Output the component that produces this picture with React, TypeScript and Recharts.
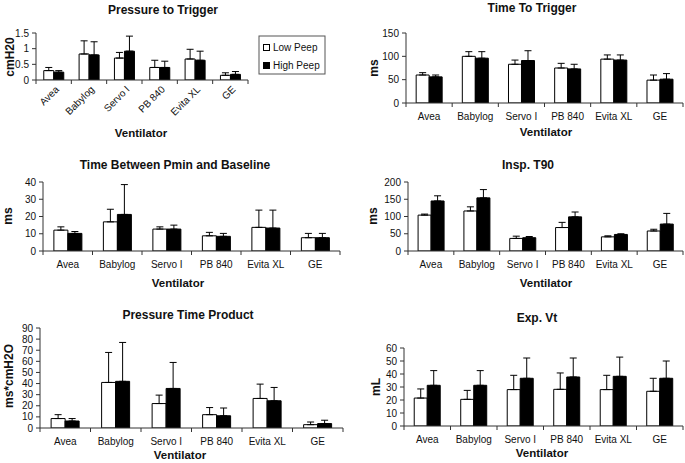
import React from "react";
import { BarChart, Bar, XAxis, YAxis, ErrorBar } from "recharts";

const categories = ["Avea", "Babylog", "Servo I", "PB 840", "Evita XL", "GE"];

const pttLow = [0.3, 0.83, 0.7, 0.4, 0.67, 0.15];
const pttLowSd = [0.1, 0.42, 0.18, 0.23, 0.31, 0.08];
const pttHigh = [0.25, 0.8, 0.92, 0.4, 0.63, 0.18];
const pttHighSd = [0.05, 0.42, 0.48, 0.2, 0.29, 0.09];

const ttLow = [60, 100, 83, 75, 94, 49];
const ttLowSd = [5, 10, 9, 10, 9, 11];
const ttHigh = [56, 96, 91, 73, 92, 51];
const ttHighSd = [4, 14, 21, 10, 11, 12];

const tbLow = [12.1, 16.9, 12.7, 8.8, 13.7, 7.7];
const tbLowSd = [1.9, 7.3, 1.3, 2, 10, 2.5];
const tbHigh = [10.2, 21.2, 12.7, 8.5, 13.3, 7.7];
const tbHighSd = [1.1, 17.3, 2.3, 1.7, 10.4, 2.5];

const t90Low = [104, 116, 36.5, 68, 41, 58];
const t90LowSd = [3, 12, 6.5, 15, 3, 5];
const t90High = [145, 154, 38.5, 99, 48, 78];
const t90HighSd = [15, 24, 3.5, 14, 2, 31];

const ptpLow = [8.5, 41, 22, 12, 26.6, 3];
const ptpLowSd = [3.5, 27, 7.6, 6.4, 12.9, 2.4];
const ptpHigh = [6.3, 42, 35.6, 11, 24.5, 4];
const ptpHighSd = [2.2, 35, 23.4, 7, 12, 3];

const vtLow = [21.5, 20.5, 28, 28.2, 28, 26.7];
const vtLowSd = [7, 6.9, 11, 12.6, 11, 10];
const vtHigh = [31.3, 31.3, 36.7, 37.7, 38.2, 36.7];
const vtHighSd = [11.3, 11.3, 15.6, 14.6, 14.8, 13.3];

const seriesNames = ["Low Peep", "High Peep"];

const FONT = "'Liberation Sans', Arial, Helvetica, sans-serif";

function buildRows(low: number[], lowSd: number[], high: number[], highSd: number[]) {
  return categories.map((c, i) => ({
    name: c,
    low: low[i],
    lowErr: [0, lowSd[i]],
    high: high[i],
    highErr: [0, highSd[i]],
  }));
}

type PanelCfg = {
  x0: number; y0: number; x1: number; y1: number;
  domain: [number, number]; ticks: number[];
  rotated?: boolean;
  rows: any[];
};

const CatTick = (props: any) => {
  const { x, y, payload, index, half, rotated } = props;
  const axisY = y - 8;
  const h = half;
  return (
    <g>
      <path d={`M${x - h},${axisY}v4`} stroke="#333" strokeWidth={1} fill="none" />
      {index === categories.length - 1 ? (
        <path d={`M${x + h},${axisY}v4`} stroke="#333" strokeWidth={1} fill="none" />
      ) : null}
      {rotated ? (
        <text
          x={x + 6}
          y={axisY + 10}
          textAnchor="end"
          transform={`rotate(-45 ${x + 6} ${axisY + 10})`}
          fontSize={10}
          fontFamily={FONT}
          fill="#111"
        >
          {payload.value}
        </text>
      ) : (
        <text x={x} y={axisY + 17} textAnchor="middle" fontSize={10} fontFamily={FONT} fill="#111">
          {payload.value}
        </text>
      )}
    </g>
  );
};

const YW = 40;
const TOPM = 6;

function Panel({ cfg }: { cfg: PanelCfg }) {
  const xh = cfg.rotated ? 50 : 24;
  const width = cfg.x1 - cfg.x0 + YW + 2;
  const height = cfg.y1 - cfg.y0 + TOPM + xh;
  const half = (cfg.x1 - cfg.x0) / 12;
  return (
    <div style={{ position: "absolute", left: cfg.x0 - YW, top: cfg.y0 - TOPM }}>
      <BarChart
        width={width}
        height={height}
        data={cfg.rows}
        margin={{ top: TOPM, right: 2, left: 0, bottom: 0 }}
        barCategoryGap="22%"
        barGap={0}
      >
        <XAxis
          dataKey="name"
          height={xh}
          axisLine={{ stroke: "#333" }}
          tickLine={false}
          tickSize={6}
          tickMargin={2}
          interval={0}
          tick={(p: any) => <CatTick {...p} half={half} rotated={cfg.rotated} />}
        />
        <YAxis
          width={YW}
          domain={cfg.domain}
          ticks={cfg.ticks}
          interval={0}
          allowDataOverflow
          axisLine={{ stroke: "#333" }}
          tickLine={{ stroke: "#333" }}
          tickSize={4}
          tickMargin={3}
          tick={{ fontSize: 10, fill: "#111", fontFamily: FONT }}
        />
        <Bar dataKey="low" name={seriesNames[0]} fill="#ffffff" stroke="#000" strokeWidth={1} isAnimationActive={false}>
          <ErrorBar dataKey="lowErr" width={3.5} stroke="#000" strokeWidth={1} direction="y" />
        </Bar>
        <Bar dataKey="high" name={seriesNames[1]} fill="#000000" stroke="#000" strokeWidth={1} isAnimationActive={false}>
          <ErrorBar dataKey="highErr" width={3.5} stroke="#000" strokeWidth={1} direction="y" />
        </Bar>
      </BarChart>
    </div>
  );
}

const panels: PanelCfg[] = [
  { x0: 36, y0: 33, x1: 248, y1: 80, domain: [0, 1.5], ticks: [0, 0.5, 1, 1.5], rotated: true, rows: buildRows(pttLow, pttLowSd, pttHigh, pttHighSd) },
  { x0: 406, y0: 33, x1: 683, y1: 103, domain: [0, 150], ticks: [0, 50, 100, 150], rows: buildRows(ttLow, ttLowSd, ttHigh, ttHighSd) },
  { x0: 43, y0: 182, x1: 340, y1: 251, domain: [0, 40], ticks: [0, 10, 20, 30, 40], rows: buildRows(tbLow, tbLowSd, tbHigh, tbHighSd) },
  { x0: 408, y0: 182, x1: 683, y1: 251, domain: [0, 200], ticks: [0, 50, 100, 150, 200], rows: buildRows(t90Low, t90LowSd, t90High, t90HighSd) },
  { x0: 40, y0: 328, x1: 343, y1: 428, domain: [0, 90], ticks: [0, 10, 20, 30, 40, 50, 60, 70, 80, 90], rows: buildRows(ptpLow, ptpLowSd, ptpHigh, ptpHighSd) },
  { x0: 404, y0: 348, x1: 683, y1: 426, domain: [0, 60], ticks: [0, 10, 20, 30, 40, 50, 60], rows: buildRows(vtLow, vtLowSd, vtHigh, vtHighSd) },
];

const titles = [
  { text: "Pressure to Trigger", x: 163, y: 14 },
  { text: "Time To Trigger", x: 532, y: 12 },
  { text: "Time Between Pmin and Baseline", x: 175, y: 169 },
  { text: "Insp. T90", x: 528, y: 169 },
  { text: "Pressure Time Product", x: 188, y: 319 },
  { text: "Exp. Vt", x: 537, y: 322 },
];

const xLabels = [
  { x: 141, y: 137 },
  { x: 546, y: 136 },
  { x: 178, y: 287 },
  { x: 546, y: 287 },
  { x: 180, y: 459 },
  { x: 542, y: 457 },
];

const yLabels = [
  { text: "cmH20", x: 10, y: 57 },
  { text: "ms", x: 374, y: 68 },
  { text: "ms", x: 8, y: 216 },
  { text: "ms", x: 373, y: 216 },
  { text: "ms*cmH2O", x: 9, y: 376 },
  { text: "mL", x: 376, y: 387 },
];

export default function App() {
  return (
    <div
      style={{
        position: "absolute",
        left: 0,
        top: 0,
        width: 685,
        height: 463,
        overflow: "hidden",
        background: "#fff",
        fontFamily: FONT,
      }}
    >
      {panels.map((p, i) => (
        <Panel key={i} cfg={p} />
      ))}
      <svg width={685} height={463} style={{ position: "absolute", left: 0, top: 0, pointerEvents: "none" }}>
        {titles.map((t, i) => (
          <text key={"t" + i} x={t.x} y={t.y} textAnchor="middle" fontSize={12} fontWeight="bold" fontFamily={FONT} fill="#111">
            {t.text}
          </text>
        ))}
        {xLabels.map((t, i) => (
          <text key={"x" + i} x={t.x} y={t.y} textAnchor="middle" fontSize={11.5} fontWeight="bold" fontFamily={FONT} fill="#111">
            Ventilator
          </text>
        ))}
        {yLabels.map((t, i) => (
          <text
            key={"y" + i}
            x={t.x}
            y={t.y}
            textAnchor="middle"
            dominantBaseline="central"
            transform={`rotate(-90 ${t.x} ${t.y})`}
            fontSize={12}
            fontWeight="bold"
            fontFamily={FONT}
            fill="#111"
          >
            {t.text}
          </text>
        ))}
        <rect x={259} y={36} width={66} height={38} fill="#fff" stroke="#555" strokeWidth={1} />
        <rect x={263.5} y={44.5} width={6} height={6} fill="#fff" stroke="#000" strokeWidth={1} />
        <text x={273} y={51} fontSize={10} fontFamily={FONT} fill="#111">{seriesNames[0]}</text>
        <rect x={263.5} y={62.5} width={6} height={6} fill="#000" stroke="#000" strokeWidth={1} />
        <text x={273} y={69} fontSize={10} fontFamily={FONT} fill="#111">{seriesNames[1]}</text>
      </svg>
    </div>
  );
}
